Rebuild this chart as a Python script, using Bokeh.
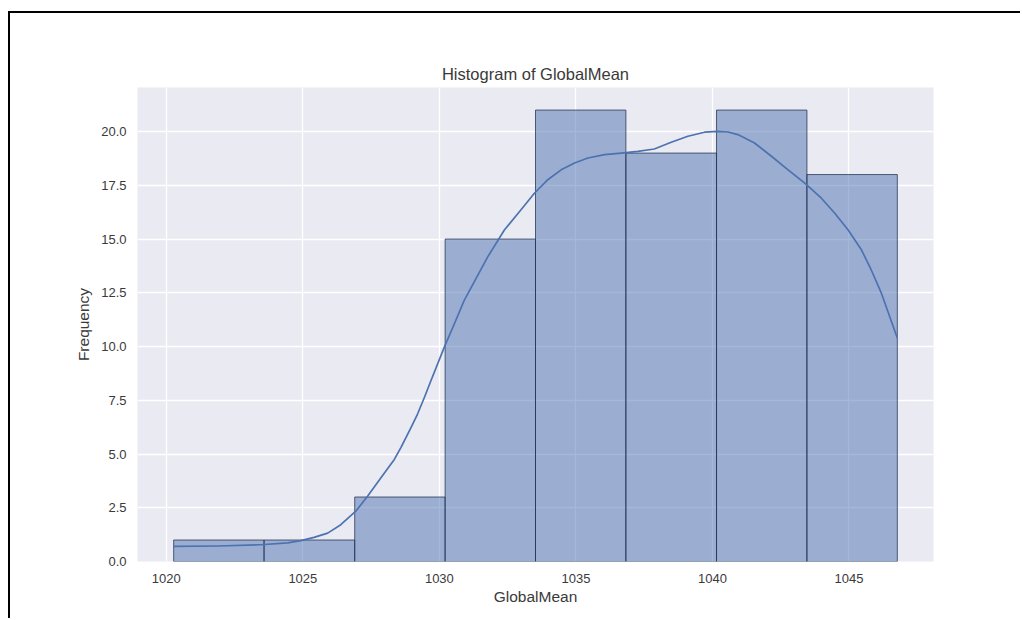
from bokeh.plotting import figure
from bokeh.models import ColumnDataSource, FixedTicker
from bokeh.embed import file_html
from bokeh.resources import INLINE

# Histogram bins of GlobalMean and their counts
bin_edges = [1020.27, 1023.58, 1026.90, 1030.21, 1033.52,
             1036.83, 1040.15, 1043.46, 1046.77]
counts = [1, 1, 3, 15, 21, 19, 21, 18]

# Smoothed density curve, scaled to counts
kde_x = [1020.27, 1021.90, 1023.46, 1024.44, 1024.93, 1025.41, 1025.91,
         1026.39, 1026.94, 1027.37, 1027.86, 1028.35, 1028.59, 1028.96,
         1029.20, 1029.45, 1029.69, 1030.18, 1030.55, 1030.91, 1031.34,
         1031.77, 1032.38, 1032.99, 1033.48, 1033.97, 1034.46, 1034.95,
         1035.44, 1036.05, 1036.66, 1037.27, 1037.87, 1038.49, 1039.10,
         1039.71, 1040.20, 1040.57, 1040.93, 1041.54, 1042.16, 1042.77,
         1043.38, 1043.99, 1044.48, 1044.97, 1045.46, 1045.82, 1046.19,
         1046.77]
kde_y = [0.70, 0.72, 0.78, 0.87, 0.97, 1.12, 1.32,
         1.71, 2.34, 3.04, 3.90, 4.75, 5.30, 6.23,
         6.86, 7.63, 8.41, 9.97, 11.06, 12.15, 13.16,
         14.17, 15.42, 16.36, 17.13, 17.76, 18.22, 18.54,
         18.77, 18.93, 19.00, 19.08, 19.19, 19.50, 19.78,
         19.97, 20.01, 19.98, 19.86, 19.47, 18.85, 18.22,
         17.60, 16.90, 16.20, 15.42, 14.49, 13.55, 12.47,
         10.40]

x_ticks = [1020, 1025, 1030, 1035, 1040, 1045]
y_ticks = [0.0, 2.5, 5.0, 7.5, 10.0, 12.5, 15.0, 17.5, 20.0]

FONT = "Liberation Sans"
TEXT = "#3a3a3a"
BLUE = "#4C72B0"

bars = ColumnDataSource(dict(left=bin_edges[:-1], right=bin_edges[1:],
                             top=counts, bottom=[0] * len(counts)))
curve = ColumnDataSource(dict(x=kde_x, y=kde_y))

span = bin_edges[-1] - bin_edges[0]
p = figure(width=1012, height=607, output_backend="svg", toolbar_location=None,
           x_range=(bin_edges[0] - 0.05 * span, bin_edges[-1] + 0.05 * span),
           y_range=(0, max(counts) * 1.05),
           title="Histogram of GlobalMean",
           min_border_left=127, min_border_right=89,
           min_border_top=74, min_border_bottom=59)
p.styles = {"margin-left": "8px", "margin-top": "11px",
            "border-left": "2px solid #000", "border-top": "2px solid #000"}

p.background_fill_color = "#EAEAF2"
p.border_fill_color = "white"
p.outline_line_color = None

p.title.align = "center"
p.title.text_font = FONT
p.title.text_font_size = "16.5px"
p.title.text_font_style = "normal"
p.title.text_color = TEXT
p.title.standoff = 9

p.quad(left="left", right="right", top="top", bottom="bottom", source=bars,
       fill_color=BLUE, fill_alpha=0.5, line_color="#22304f", line_alpha=0.75,
       line_width=1)
p.line("x", "y", source=curve, line_color=BLUE, line_width=1.7,
       line_join="round")

p.xaxis.ticker = FixedTicker(ticks=x_ticks)
p.yaxis.ticker = FixedTicker(ticks=y_ticks)
p.yaxis.major_label_overrides = {t: f"{t:.1f}" for t in y_ticks}
p.xaxis.axis_label = "GlobalMean"
p.yaxis.axis_label = "Frequency"

for ax in (p.xaxis, p.yaxis):
    ax.axis_line_color = None
    ax.major_tick_line_color = None
    ax.minor_tick_line_color = None
    ax.major_label_text_font = FONT
    ax.major_label_text_font_size = "13px"
    ax.major_label_text_color = TEXT
    ax.axis_label_text_font = FONT
    ax.axis_label_text_font_size = "15.5px"
    ax.axis_label_text_font_style = "normal"
    ax.axis_label_text_color = TEXT
p.xaxis.major_label_standoff = 6
p.yaxis.major_label_standoff = 5
p.xaxis.axis_label_standoff = 2
p.yaxis.axis_label_standoff = 6

p.grid.grid_line_color = "white"
p.grid.grid_line_width = 1.3
p.xgrid.ticker = FixedTicker(ticks=x_ticks)
p.ygrid.ticker = FixedTicker(ticks=y_ticks)

open("out.html", "w").write(file_html(p, INLINE))
